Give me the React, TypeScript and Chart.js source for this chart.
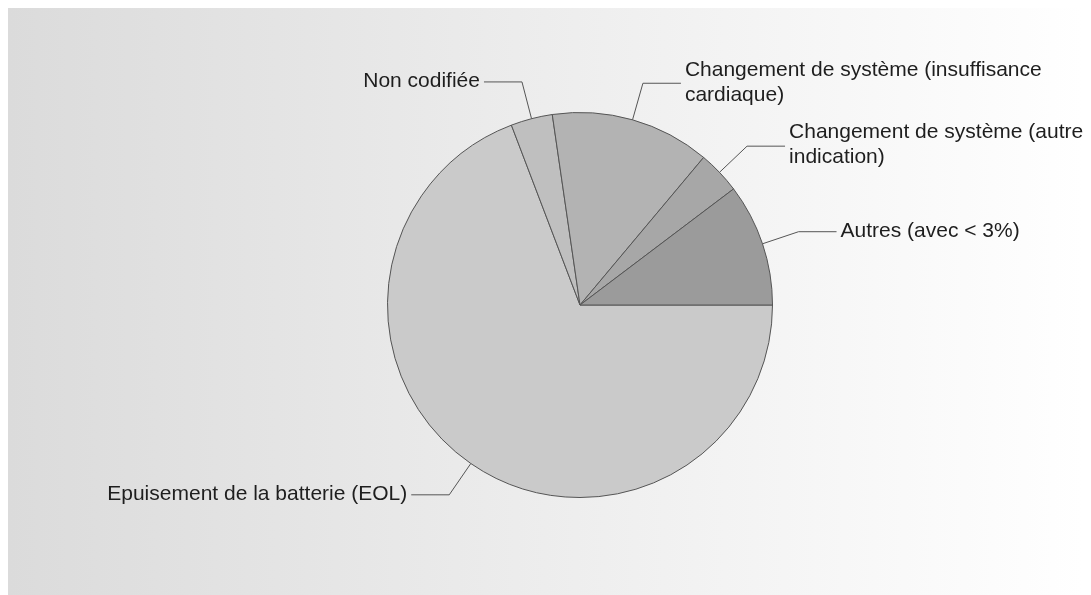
import React, { useEffect, useRef } from "react";
import { Chart, registerables } from "chart.js";

Chart.register(...registerables);

const categories = [
  "Epuisement de la batterie (EOL)",
  "Non codifiée",
  "Changement de système (insuffisance cardiaque)",
  "Changement de système (autre indication)",
  "Autres (avec < 3%)",
];
const labelLines = [
  ["Epuisement de la batterie (EOL)"],
  ["Non codifiée"],
  ["Changement de système (insuffisance", "cardiaque)"],
  ["Changement de système (autre", "indication)"],
  ["Autres (avec < 3%)"],
];
const values = [69.2, 3.5, 13.4, 3.6, 10.3];
const colors = ["#cacaca", "#bfbfbf", "#b3b3b3", "#a7a7a7", "#9b9b9b"];

const FONT = "21px 'Liberation Sans', Arial, sans-serif";

const bgPlugin = {
  id: "bg",
  beforeDraw(chart: any) {
    const { ctx, width, height } = chart;
    ctx.save();
    const g = ctx.createLinearGradient(0, 0, width, 0);
    g.addColorStop(0, "#dbdbdb");
    g.addColorStop(1, "#ffffff");
    ctx.fillStyle = g;
    ctx.fillRect(0, 0, width, height);
    ctx.restore();
  },
};

const labelPlugin = {
  id: "pieLabels",
  afterDraw(chart: any) {
    const { ctx } = chart;
    const meta = chart.getDatasetMeta(0);
    ctx.save();
    ctx.font = FONT;
    ctx.textBaseline = "middle";
    meta.data.forEach((arc: any, i: number) => {
      const { x, y, startAngle, endAngle, outerRadius } = arc.getProps(
        ["x", "y", "startAngle", "endAngle", "outerRadius"],
        true
      );
      const mid = (startAngle + endAngle) / 2;
      const c = Math.cos(mid);
      const s = Math.sin(mid);
      const ex = x + outerRadius * c;
      const ey = y + outerRadius * s;
      const bx = x + (outerRadius + 38) * c;
      const by = y + (outerRadius + 38) * s;
      const right = c >= 0;
      const hx = bx + (right ? 38 : -38);
      ctx.strokeStyle = "#555555";
      ctx.lineWidth = 1;
      ctx.beginPath();
      ctx.moveTo(ex, ey);
      ctx.lineTo(bx, by);
      ctx.lineTo(hx, by);
      ctx.stroke();
      const lines = labelLines[i];
      const lh = 25;
      const top = by - ((lines.length - 1) * lh) / 2 - 1;
      ctx.fillStyle = "#1e1e1e";
      ctx.textAlign = right ? "left" : "right";
      lines.forEach((ln, k) => {
        ctx.fillText(ln, hx + (right ? 4 : -4), top + k * lh);
      });
    });
    ctx.restore();
  },
};

export default function App() {
  const ref = useRef<HTMLCanvasElement>(null);
  useEffect(() => {
    if (!ref.current) return;
    const chart = new Chart(ref.current, {
      type: "pie",
      data: {
        labels: categories,
        datasets: [
          {
            data: values,
            backgroundColor: colors,
            borderColor: "#555555",
            borderWidth: 1,
            hoverOffset: 0,
          },
        ],
      },
      options: {
        animation: false,
        responsive: false,
        rotation: 90,
        layout: { padding: { top: 103.5, bottom: 96.5, left: 379, right: 310 } },
        plugins: {
          legend: { display: false },
          tooltip: { enabled: false },
        },
      },
      plugins: [bgPlugin, labelPlugin],
    });
    return () => chart.destroy();
  }, []);
  return (
    <div style={{ position: "absolute", left: 8, top: 8, width: 1075, height: 587 }}>
      <canvas ref={ref} width={1075} height={587} style={{ display: "block" }} />
    </div>
  );
}
